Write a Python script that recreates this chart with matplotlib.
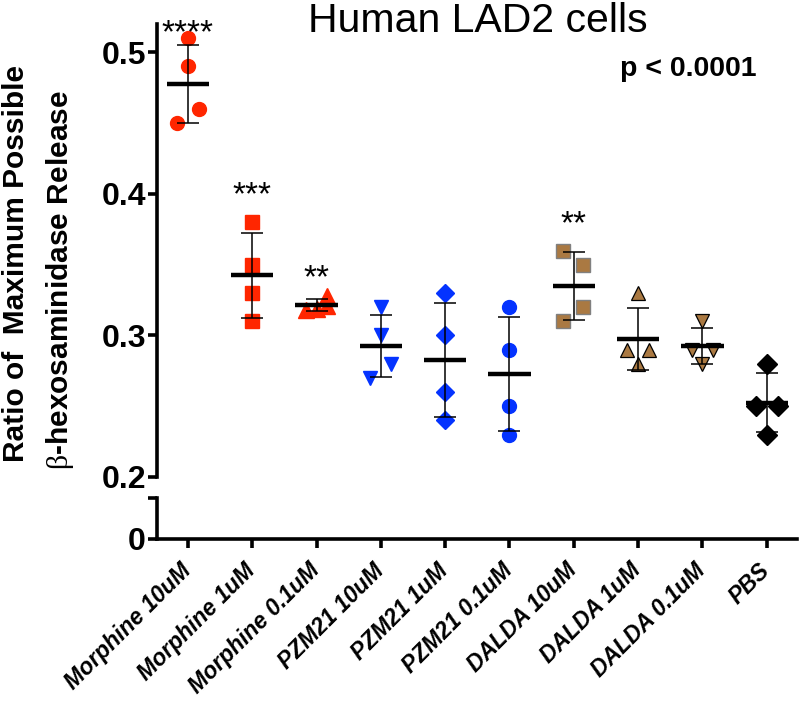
import numpy as np
import matplotlib
matplotlib.use("Agg")
import matplotlib.pyplot as plt
from matplotlib.transforms import ScaledTranslation

plt.rcParams['font.family'] = ['Liberation Sans', 'DejaVu Sans']
plt.rcParams['mathtext.fontset'] = 'custom'
plt.rcParams['mathtext.rm'] = 'Liberation Serif'

# ---- data ----
categories = ["Morphine 10uM", "Morphine 1uM", "Morphine 0.1uM",
              "PZM21 10uM", "PZM21 1uM", "PZM21 0.1uM",
              "DALDA 10uM", "DALDA 1uM", "DALDA 0.1uM", "PBS"]
morphine_10 = [0.510, 0.490, 0.460, 0.450]
morphine_1 = [0.380, 0.350, 0.330, 0.310]
morphine_01 = [0.328, 0.318, 0.319, 0.321]
pzm21_10 = [0.320, 0.300, 0.280, 0.270]
pzm21_1 = [0.330, 0.300, 0.260, 0.240]
pzm21_01 = [0.320, 0.290, 0.250, 0.230]
dalda_10 = [0.360, 0.350, 0.320, 0.310]
dalda_1 = [0.330, 0.290, 0.290, 0.280]
dalda_01 = [0.310, 0.290, 0.290, 0.280]
pbs = [0.280, 0.250, 0.250, 0.230]
groups = [morphine_10, morphine_1, morphine_01, pzm21_10, pzm21_1,
          pzm21_01, dalda_10, dalda_1, dalda_01, pbs]
significance = ["****", "***", "**", "", "", "", "**", "", "", ""]
yticks_upper = [0.2, 0.3, 0.4, 0.5]
ytick_labels_upper = ["0.2", "0.3", "0.4", "0.5"]

# ---- style (horizontal spread of points, markers, colours) ----
offsets = [[0, 0, 0.17, -0.17], [0, 0, 0, 0], [0.17, -0.17, 0, 0.17],
           [0, 0, 0.16, -0.17], [0, 0, 0, 0], [0, 0, 0, 0],
           [-0.17, 0.15, 0.15, -0.17], [0, -0.17, 0.17, 0],
           [0, -0.17, 0.17, 0], [0, -0.17, 0.17, 0]]
RED, BLUE, BROWN = "#FF2600", "#0433FF", "#AA7942"
styles = [
    dict(marker='o', ms=10, color=RED, mec=RED),
    dict(marker='s', ms=10.5, color=RED, mec=RED),
    dict(marker='^', ms=11, color=RED, mec=RED),
    dict(marker='v', ms=10.5, color=BLUE, mec=BLUE),
    dict(marker='D', ms=9.5, color=BLUE, mec=BLUE),
    dict(marker='o', ms=10, color=BLUE, mec=BLUE),
    dict(marker='s', ms=10.5, color=BROWN, mec='#808080', mew=1.0),
    dict(marker='^', ms=10.5, color=BROWN, mec='black', mew=0.9),
    dict(marker='v', ms=10.5, color=BROWN, mec='black', mew=0.9),
    dict(marker='D', ms=10.5, color='black', mec='black'),
]
sig_y = [0.507, 0.3927, 0.334, 0, 0, 0, 0.372, 0, 0, 0]

W, H = 800, 702
fig = plt.figure(figsize=(8, 7.02), dpi=100)
left, right = 157 / W, 797 / W
ax = fig.add_axes([left, 1 - 477 / H, right - left, (477 - 24) / H])
ax2 = fig.add_axes([left, 1 - 539 / H, right - left, (539 - 498) / H])

xlim = (-0.48, 9.47)
LW = 2.6
for a in (ax, ax2):
    a.set_xlim(*xlim)
    a.patch.set_alpha(0)
    for s in ('top', 'right'):
        a.spines[s].set_visible(False)
    a.spines['left'].set_linewidth(LW)
    a.spines['bottom'].set_linewidth(LW)

ax.spines['bottom'].set_visible(False)
ax.set_ylim(0.2, 0.52)
ax.set_yticks(yticks_upper, ytick_labels_upper)
ax.set_xticks([])
ax.tick_params(axis='y', direction='out', length=6.5, width=LW, pad=1.5,
               labelsize=23)
for lb in ax.get_yticklabels():
    lb.set_fontweight('bold')

ax2.set_ylim(0, 1)
ax2.set_yticks([0, 1], ["0", ""])
ax2.tick_params(axis='y', direction='out', length=6.5, width=LW, pad=1.5,
                labelsize=23)
for lb in ax2.get_yticklabels():
    lb.set_fontweight('bold')
x = np.arange(len(categories))
ax2.set_xticks(x, categories, rotation=45, ha='right', va='baseline',
               rotation_mode='anchor')
ax2.tick_params(axis='x', direction='out', length=6.5, width=LW, pad=17,
                labelsize=16.5)
for lb in ax2.get_xticklabels():
    lb.set_fontweight('bold')
    lb.set_fontstyle('italic')
    lb.set_transform(lb.get_transform() +
                     ScaledTranslation(4 / 100, 0, fig.dpi_scale_trans))

for i, (vals, offs, st) in enumerate(zip(groups, offsets, styles)):
    vals = np.asarray(vals)
    m = vals.mean()
    sd = vals.std(ddof=1)
    kw = dict(st)
    ax.plot(i + np.asarray(offs), vals, ls='none', zorder=3, clip_on=False,
            markerfacecolor=kw.pop('color'), **kw)
    ax.hlines(m, i - 0.33, i + 0.33, colors='black', lw=3.2, zorder=5)
    ax.errorbar(i, m, yerr=sd, fmt='none', ecolor='black', elinewidth=1.1,
                capsize=7.9, capthick=1.1, zorder=4)
    if significance[i]:
        ax.text(i, sig_y[i], significance[i], ha='center', va='baseline',
                fontsize=24, clip_on=False)

fig.text(478 / W, 1 - 32 / H, "Human LAD2 cells", ha='center', va='baseline',
         fontsize=29.5)
fig.text(620 / W, 1 - 76 / H, "p < 0.0001", ha='left', va='baseline',
         fontsize=20.5, fontweight='bold')

fig.text(16 / W, 1 - 263 / H, "Ratio of  Maximum Possible", rotation=90,
         ha='center', va='center', fontsize=21.5, fontweight='bold')
fig.text(60 / W, 1 - 280 / H, r"$\mathrm{\beta}$-hexosaminidase Release",
         rotation=90, ha='center', va='center', fontsize=21.5,
         fontweight='bold')

fig.savefig("out.png", dpi=100)
